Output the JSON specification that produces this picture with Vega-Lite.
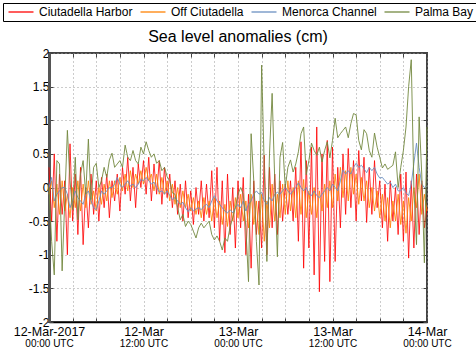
{
"$schema":"https://vega.github.io/schema/vega-lite/v6.json",
"width":378,"height":269,
"autosize":{"type":"none"},
"padding":{"left":49,"top":53,"right":49,"bottom":37},
"background":"white",
"title":{"text":"Sea level anomalies (cm)","fontSize":16,"font":"Liberation Sans","fontWeight":"normal","offset":7,"dy":49,"color":"#000"},
"data":{"values":[
{"t":"2017-03-12T00:00Z","R":0.3,"O":-0.1,"B":0,"G":0},
{"t":"2017-03-12T00:20Z","R":-0.5,"O":0.1,"B":0.15,"G":-0.8},
{"t":"2017-03-12T00:40Z","R":0.5,"O":-0.3,"B":-0.2,"G":-1.3},
{"t":"2017-03-12T01:00Z","R":-0.8,"O":0.05,"B":-0.1,"G":0.4},
{"t":"2017-03-12T01:20Z","R":0.2,"O":-0.4,"B":-0.05,"G":0.35},
{"t":"2017-03-12T01:40Z","R":-0.4,"O":0.1,"B":0,"G":-1.24},
{"t":"2017-03-12T02:00Z","R":0.1,"O":-0.35,"B":0,"G":-0.2},
{"t":"2017-03-12T02:20Z","R":-1.0,"O":-0.1,"B":-0.1,"G":0.85},
{"t":"2017-03-12T02:40Z","R":0.65,"O":-0.45,"B":-0.3,"G":0.1},
{"t":"2017-03-12T03:00Z","R":-0.5,"O":0,"B":-0.2,"G":-0.33},
{"t":"2017-03-12T03:20Z","R":0.2,"O":-0.3,"B":-0.05,"G":0.45},
{"t":"2017-03-12T03:40Z","R":-0.7,"O":0.1,"B":-0.15,"G":-0.48},
{"t":"2017-03-12T04:00Z","R":0.3,"O":-0.35,"B":-0.2,"G":0.2},
{"t":"2017-03-12T04:20Z","R":-0.85,"O":0.05,"B":-0.25,"G":0.4},
{"t":"2017-03-12T04:40Z","R":0,"O":-0.3,"B":-0.1,"G":-0.1},
{"t":"2017-03-12T05:00Z","R":-0.6,"O":0.1,"B":-0.05,"G":0.72},
{"t":"2017-03-12T05:20Z","R":0.2,"O":-0.25,"B":-0.2,"G":-0.18},
{"t":"2017-03-12T05:40Z","R":-0.4,"O":-0.05,"B":-0.3,"G":0.3},
{"t":"2017-03-12T06:00Z","R":0.1,"O":-0.35,"B":-0.33,"G":0.36},
{"t":"2017-03-12T06:20Z","R":-0.5,"O":0,"B":-0.2,"G":0},
{"t":"2017-03-12T06:40Z","R":0.15,"O":-0.25,"B":-0.05,"G":0.1},
{"t":"2017-03-12T07:00Z","R":-0.3,"O":0.05,"B":-0.1,"G":0.3},
{"t":"2017-03-12T07:20Z","R":0.2,"O":-0.2,"B":-0.05,"G":0.15},
{"t":"2017-03-12T07:40Z","R":-0.45,"O":0.1,"B":0,"G":0.41},
{"t":"2017-03-12T08:00Z","R":0.1,"O":-0.15,"B":0,"G":0.51},
{"t":"2017-03-12T08:20Z","R":-0.2,"O":0.1,"B":0.05,"G":0.3},
{"t":"2017-03-12T08:40Z","R":0.2,"O":-0.1,"B":0.15,"G":0.35},
{"t":"2017-03-12T09:00Z","R":-0.35,"O":0.15,"B":0.05,"G":0.4},
{"t":"2017-03-12T09:20Z","R":0.3,"O":-0.05,"B":0,"G":0.3},
{"t":"2017-03-12T09:40Z","R":-0.1,"O":0.2,"B":0.05,"G":0.63},
{"t":"2017-03-12T10:00Z","R":0.45,"O":-0.05,"B":0.1,"G":0.45},
{"t":"2017-03-12T10:20Z","R":-0.2,"O":0.25,"B":0.02,"G":0.4},
{"t":"2017-03-12T10:40Z","R":0.3,"O":0,"B":0.05,"G":0.55},
{"t":"2017-03-12T11:00Z","R":-0.3,"O":0.2,"B":0,"G":0.4},
{"t":"2017-03-12T11:20Z","R":0.35,"O":0.05,"B":0.05,"G":0.35},
{"t":"2017-03-12T11:40Z","R":0,"O":0.25,"B":0.12,"G":0.6},
{"t":"2017-03-12T12:00Z","R":0.4,"O":0.05,"B":0.1,"G":0.5},
{"t":"2017-03-12T12:20Z","R":-0.1,"O":0.3,"B":0.15,"G":0.68},
{"t":"2017-03-12T12:40Z","R":0.45,"O":0.1,"B":0.1,"G":0.55},
{"t":"2017-03-12T13:00Z","R":-0.2,"O":0.2,"B":0.05,"G":0.45},
{"t":"2017-03-12T13:20Z","R":0.35,"O":-0.05,"B":0.08,"G":0.5},
{"t":"2017-03-12T13:40Z","R":-0.1,"O":0.2,"B":0,"G":0.36},
{"t":"2017-03-12T14:00Z","R":0.4,"O":-0.1,"B":-0.07,"G":0.4},
{"t":"2017-03-12T14:20Z","R":-0.25,"O":0.15,"B":-0.05,"G":0.25},
{"t":"2017-03-12T14:40Z","R":0.3,"O":-0.1,"B":-0.1,"G":0.3},
{"t":"2017-03-12T15:00Z","R":-0.15,"O":0.1,"B":-0.05,"G":0.16},
{"t":"2017-03-12T15:20Z","R":0.2,"O":-0.2,"B":-0.12,"G":0.1},
{"t":"2017-03-12T15:40Z","R":-0.3,"O":0.05,"B":-0.18,"G":-0.08},
{"t":"2017-03-12T16:00Z","R":0.1,"O":-0.25,"B":-0.15,"G":-0.1},
{"t":"2017-03-12T16:20Z","R":-0.4,"O":0,"B":-0.2,"G":-0.3},
{"t":"2017-03-12T16:40Z","R":0.05,"O":-0.3,"B":-0.25,"G":-0.48},
{"t":"2017-03-12T17:00Z","R":-0.5,"O":-0.05,"B":-0.22,"G":-0.4},
{"t":"2017-03-12T17:20Z","R":0.1,"O":-0.3,"B":-0.3,"G":-0.58},
{"t":"2017-03-12T17:40Z","R":-0.45,"O":-0.1,"B":-0.36,"G":-0.5},
{"t":"2017-03-12T18:00Z","R":-0.05,"O":-0.35,"B":-0.3,"G":-0.55},
{"t":"2017-03-12T18:20Z","R":-0.55,"O":-0.15,"B":-0.35,"G":-0.65},
{"t":"2017-03-12T18:40Z","R":0,"O":-0.4,"B":-0.32,"G":-0.75},
{"t":"2017-03-12T19:00Z","R":-0.4,"O":-0.2,"B":-0.3,"G":-0.6},
{"t":"2017-03-12T19:20Z","R":0.1,"O":-0.45,"B":-0.33,"G":-0.53},
{"t":"2017-03-12T19:40Z","R":-0.5,"O":-0.15,"B":-0.28,"G":-0.6},
{"t":"2017-03-12T20:00Z","R":0.05,"O":-0.4,"B":-0.25,"G":-0.55},
{"t":"2017-03-12T20:20Z","R":-0.45,"O":-0.2,"B":-0.3,"G":-0.5},
{"t":"2017-03-12T20:40Z","R":0.25,"O":-0.5,"B":-0.2,"G":-0.7},
{"t":"2017-03-12T21:00Z","R":-0.6,"O":-0.15,"B":-0.12,"G":-0.78},
{"t":"2017-03-12T21:20Z","R":0.3,"O":-0.45,"B":-0.2,"G":-0.72},
{"t":"2017-03-12T21:40Z","R":-0.8,"O":-0.2,"B":-0.25,"G":-0.8},
{"t":"2017-03-12T22:00Z","R":0.1,"O":-0.55,"B":-0.3,"G":-0.93},
{"t":"2017-03-12T22:20Z","R":-0.97,"O":-0.25,"B":-0.35,"G":-0.75},
{"t":"2017-03-12T22:40Z","R":0.2,"O":-0.58,"B":-0.38,"G":-0.8},
{"t":"2017-03-12T23:00Z","R":-0.7,"O":-0.2,"B":-0.33,"G":-0.58},
{"t":"2017-03-12T23:20Z","R":0,"O":-0.5,"B":-0.38,"G":-0.45},
{"t":"2017-03-12T23:40Z","R":-0.9,"O":-0.15,"B":-0.3,"G":-0.3},
{"t":"2017-03-13T00:00Z","R":0.1,"O":-0.45,"B":-0.25,"G":-0.1},
{"t":"2017-03-13T00:20Z","R":-0.6,"O":-0.1,"B":-0.3,"G":0},
{"t":"2017-03-13T00:40Z","R":0.15,"O":-0.5,"B":-0.2,"G":-0.1},
{"t":"2017-03-13T01:00Z","R":-1.0,"O":-0.2,"B":-0.35,"G":-0.6},
{"t":"2017-03-13T01:20Z","R":-0.1,"O":-0.6,"B":-0.25,"G":-1.4},
{"t":"2017-03-13T01:40Z","R":-1.2,"O":-0.1,"B":-0.2,"G":0.8},
{"t":"2017-03-13T02:00Z","R":0.1,"O":-0.55,"B":-0.1,"G":0.1},
{"t":"2017-03-13T02:20Z","R":-0.7,"O":-0.2,"B":-0.05,"G":-0.8},
{"t":"2017-03-13T02:40Z","R":-0.2,"O":-0.7,"B":-0.1,"G":-1.45},
{"t":"2017-03-13T03:00Z","R":-0.9,"O":-0.1,"B":-0.07,"G":1.82},
{"t":"2017-03-13T03:20Z","R":0.48,"O":-0.8,"B":-0.2,"G":0.3},
{"t":"2017-03-13T03:40Z","R":-1.0,"O":-0.2,"B":-0.25,"G":-1.1},
{"t":"2017-03-13T04:00Z","R":0.3,"O":-0.6,"B":-0.15,"G":0.5},
{"t":"2017-03-13T04:20Z","R":-0.6,"O":0.05,"B":-0.2,"G":1.4},
{"t":"2017-03-13T04:40Z","R":0.2,"O":-0.5,"B":-0.1,"G":0.1},
{"t":"2017-03-13T05:00Z","R":-0.7,"O":-0.1,"B":-0.07,"G":-1.03},
{"t":"2017-03-13T05:20Z","R":0.1,"O":-0.45,"B":-0.1,"G":0.45},
{"t":"2017-03-13T05:40Z","R":-0.5,"O":0.05,"B":-0.05,"G":0.67},
{"t":"2017-03-13T06:00Z","R":0.05,"O":-0.4,"B":0,"G":0},
{"t":"2017-03-13T06:20Z","R":-0.4,"O":0.1,"B":-0.05,"G":0.3},
{"t":"2017-03-13T06:40Z","R":0.1,"O":-0.35,"B":-0.1,"G":0.41},
{"t":"2017-03-13T07:00Z","R":-0.5,"O":0,"B":-0.05,"G":0.23},
{"t":"2017-03-13T07:20Z","R":0.3,"O":-0.45,"B":0,"G":0.35},
{"t":"2017-03-13T07:40Z","R":-0.8,"O":0.1,"B":0.07,"G":0.53},
{"t":"2017-03-13T08:00Z","R":0.68,"O":-0.4,"B":0,"G":0.8},
{"t":"2017-03-13T08:20Z","R":-1.2,"O":0.12,"B":-0.05,"G":0.9},
{"t":"2017-03-13T08:40Z","R":0.4,"O":-0.45,"B":0,"G":0.19},
{"t":"2017-03-13T09:00Z","R":-0.9,"O":-0.05,"B":-0.1,"G":0.4},
{"t":"2017-03-13T09:20Z","R":0.6,"O":-0.4,"B":-0.12,"G":0.66},
{"t":"2017-03-13T09:40Z","R":-1.3,"O":0,"B":-0.05,"G":0.55},
{"t":"2017-03-13T10:00Z","R":0.9,"O":-0.45,"B":-0.12,"G":0.48},
{"t":"2017-03-13T10:20Z","R":-1.55,"O":-0.05,"B":-0.15,"G":0.6},
{"t":"2017-03-13T10:40Z","R":0.5,"O":-0.35,"B":-0.1,"G":0.38},
{"t":"2017-03-13T11:00Z","R":-1.1,"O":0.05,"B":-0.05,"G":0.55},
{"t":"2017-03-13T11:20Z","R":0.7,"O":-0.3,"B":0,"G":0.68},
{"t":"2017-03-13T11:40Z","R":-1.4,"O":0.1,"B":-0.05,"G":0.44},
{"t":"2017-03-13T12:00Z","R":0.6,"O":-0.3,"B":0.05,"G":0.7},
{"t":"2017-03-13T12:20Z","R":-1.1,"O":0.2,"B":0,"G":1.03},
{"t":"2017-03-13T12:40Z","R":0.3,"O":-0.2,"B":-0.05,"G":0.74},
{"t":"2017-03-13T13:00Z","R":-0.6,"O":0.3,"B":0.1,"G":0.8},
{"t":"2017-03-13T13:20Z","R":0.5,"O":-0.15,"B":0.26,"G":0.85},
{"t":"2017-03-13T13:40Z","R":-0.4,"O":0.25,"B":0.2,"G":0.9},
{"t":"2017-03-13T14:00Z","R":0.58,"O":-0.2,"B":0.25,"G":0.74},
{"t":"2017-03-13T14:20Z","R":-0.3,"O":0.3,"B":0.2,"G":0.95},
{"t":"2017-03-13T14:40Z","R":0.4,"O":-0.1,"B":0.3,"G":1.1},
{"t":"2017-03-13T15:00Z","R":-0.5,"O":0.2,"B":0.36,"G":1.08},
{"t":"2017-03-13T15:20Z","R":0.55,"O":-0.25,"B":0.3,"G":0.7},
{"t":"2017-03-13T15:40Z","R":-0.2,"O":0.15,"B":0.33,"G":0.56},
{"t":"2017-03-13T16:00Z","R":0.45,"O":-0.2,"B":0.28,"G":0.86},
{"t":"2017-03-13T16:20Z","R":-0.52,"O":0.1,"B":0.22,"G":0.8},
{"t":"2017-03-13T16:40Z","R":0.3,"O":-0.3,"B":0.3,"G":0.55},
{"t":"2017-03-13T17:00Z","R":-0.4,"O":0,"B":0.25,"G":0.45},
{"t":"2017-03-13T17:20Z","R":0.4,"O":-0.35,"B":0.3,"G":0.81},
{"t":"2017-03-13T17:40Z","R":-0.3,"O":-0.05,"B":0.2,"G":0.6},
{"t":"2017-03-13T18:00Z","R":0.1,"O":-0.45,"B":0.14,"G":0.45},
{"t":"2017-03-13T18:20Z","R":-0.6,"O":-0.1,"B":0.15,"G":0.29},
{"t":"2017-03-13T18:40Z","R":0.05,"O":-0.5,"B":0.1,"G":0.35},
{"t":"2017-03-13T19:00Z","R":-0.8,"O":-0.15,"B":0.05,"G":0.27},
{"t":"2017-03-13T19:20Z","R":0.1,"O":-0.6,"B":0.08,"G":0.3},
{"t":"2017-03-13T19:40Z","R":-0.5,"O":-0.2,"B":0,"G":0.33},
{"t":"2017-03-13T20:00Z","R":0,"O":-0.5,"B":0.05,"G":0.53},
{"t":"2017-03-13T20:20Z","R":-0.7,"O":-0.1,"B":-0.05,"G":0},
{"t":"2017-03-13T20:40Z","R":0.2,"O":-0.55,"B":-0.05,"G":0.3},
{"t":"2017-03-13T21:00Z","R":-0.8,"O":-0.2,"B":0,"G":0.55},
{"t":"2017-03-13T21:20Z","R":0.23,"O":-0.68,"B":-0.08,"G":0.9},
{"t":"2017-03-13T21:40Z","R":-1.05,"O":-0.15,"B":-0.12,"G":1.5},
{"t":"2017-03-13T22:00Z","R":0.1,"O":-0.5,"B":0.05,"G":1.9},
{"t":"2017-03-13T22:20Z","R":-0.9,"O":0,"B":0.36,"G":0},
{"t":"2017-03-13T22:40Z","R":0.2,"O":-0.3,"B":0.66,"G":-0.85},
{"t":"2017-03-13T23:00Z","R":-0.7,"O":0.2,"B":0.3,"G":1.05},
{"t":"2017-03-13T23:20Z","R":0.1,"O":-0.4,"B":0.05,"G":0.2},
{"t":"2017-03-13T23:40Z","R":-0.6,"O":-0.1,"B":0,"G":-1.12},
{"t":"2017-03-14T00:00Z","R":-0.3,"O":-0.35,"B":0.02,"G":0.9}
]},
"transform":[{"fold":["R","O","B","G"],"as":["k","v"]}],
"layer":[
{"transform":[{"filter":"datum.k=='R'"}],
 "mark":{"type":"line","strokeWidth":1,"opacity":0.8},
 "encoding":{
  "x":{"field":"t","type":"temporal","scale":{"type":"utc","domain":[1489276800000,1489449600000]},
   "axis":{"orient":"bottom","title":null,"values":[1489276800000,1489287600000,1489298400000,1489309200000,1489320000000,1489330800000,1489341600000,1489352400000,1489363200000,1489374000000,1489384800000,1489395600000,1489406400000,1489417200000,1489428000000,1489438800000,1489449600000],
    "grid":true,"gridColor":"#999","gridDash":[1,3],"tickSize":-4,"tickColor":"#444","domain":true,"domainColor":"#000","domainWidth":1.5,
    "labelExpr":"utchours(datum.value) % 12 != 0 ? '' : ((utcdate(datum.value) == 12 && utchours(datum.value) == 0) ? '12-Mar-2017' : utcFormat(datum.value, '%d-%b'))",
    "labelFontSize":12.5,"labelFont":"Liberation Sans","labelColor":"#000","labelPadding":7,"labelFlush":false,"labelOverlap":false,"labelBound":false}},
  "y":{"field":"v","type":"quantitative","scale":{"domain":[-2,2],"nice":false,"zero":false},
   "axis":{"orient":"left","title":null,"values":[-2,-1.5,-1,-0.5,0,0.5,1,1.5,2],"grid":true,"gridColor":"#999","gridDash":[1,3],"tickSize":-4,"tickColor":"#444","domain":true,"domainColor":"#555","domainWidth":3,
    "labelExpr":"'' + datum.value","labelFontSize":12,"labelFont":"Liberation Sans","labelColor":"#000","labelPadding":4,"labelFlush":false,"labelOverlap":false}},
  "color":{"field":"k","type":"nominal","scale":{"domain":["R","O","B","G"],"range":["#ff0000","#ff8000","#6a8fc2","#73883f"]},
   "legend":{"title":null,"orient":"none","legendX":-46,"legendY":-50,"direction":"horizontal","columns":4,"strokeColor":"#000","padding":3,
    "symbolType":"M-2.5,0H2.5","symbolSize":100,"symbolStrokeWidth":1.5,"symbolOpacity":0.6,"symbolOffset":9,"labelOffset":12,
    "labelFontSize":12,"labelFont":"Liberation Sans","labelColor":"#000","columnPadding":4,
    "labelExpr":"datum.label == 'R' ? 'Ciutadella Harbor' : datum.label == 'O' ? 'Off Ciutadella' : datum.label == 'B' ? 'Menorca Channel' : 'Palma Bay'"}}
 }},
{"transform":[{"filter":"datum.k=='O'"}],
 "mark":{"type":"line","strokeWidth":1,"opacity":0.85},
 "encoding":{
  "x":{"field":"t","type":"temporal",
   "axis":{"orient":"bottom","title":null,"values":[1489276800000,1489320000000,1489363200000,1489406400000,1489449600000],"grid":false,"ticks":false,"domain":false,
    "labelExpr":"utcFormat(datum.value, '%H:%M') + ' UTC'","labelFontSize":10,"labelFont":"Liberation Sans","labelColor":"#000","labelPadding":16,"labelFlush":false,"labelOverlap":false,"labelBound":false}},
  "y":{"field":"v","type":"quantitative",
   "axis":{"orient":"right","title":null,"values":[-2,-1.5,-1,-0.5,0,0.5,1,1.5,2],"grid":false,"labels":false,"domain":false,"tickSize":-4,"tickColor":"#444"}},
  "color":{"field":"k","type":"nominal"}
 }},
{"transform":[{"filter":"datum.k=='B'"}],
 "mark":{"type":"line","strokeWidth":1,"opacity":0.9},
 "encoding":{
  "x":{"field":"t","type":"temporal",
   "axis":{"orient":"top","title":null,"values":[1489276800000,1489287600000,1489298400000,1489309200000,1489320000000,1489330800000,1489341600000,1489352400000,1489363200000,1489374000000,1489384800000,1489395600000,1489406400000,1489417200000,1489428000000,1489438800000,1489449600000],"grid":false,"labels":false,"domain":false,"tickSize":-4,"tickColor":"#444"}},
  "y":{"field":"v","type":"quantitative","axis":null},
  "color":{"field":"k","type":"nominal"}
 }},
{"transform":[{"filter":"datum.k=='G'"}],
 "mark":{"type":"line","strokeWidth":1,"opacity":0.9},
 "encoding":{
  "x":{"field":"t","type":"temporal","axis":null},
  "y":{"field":"v","type":"quantitative","axis":null},
  "color":{"field":"k","type":"nominal"}
 }}
],
"resolve":{"axis":{"x":"independent","y":"independent"}},
"config":{"view":{"stroke":"#444","strokeWidth":2},"font":"Liberation Sans"}
}
